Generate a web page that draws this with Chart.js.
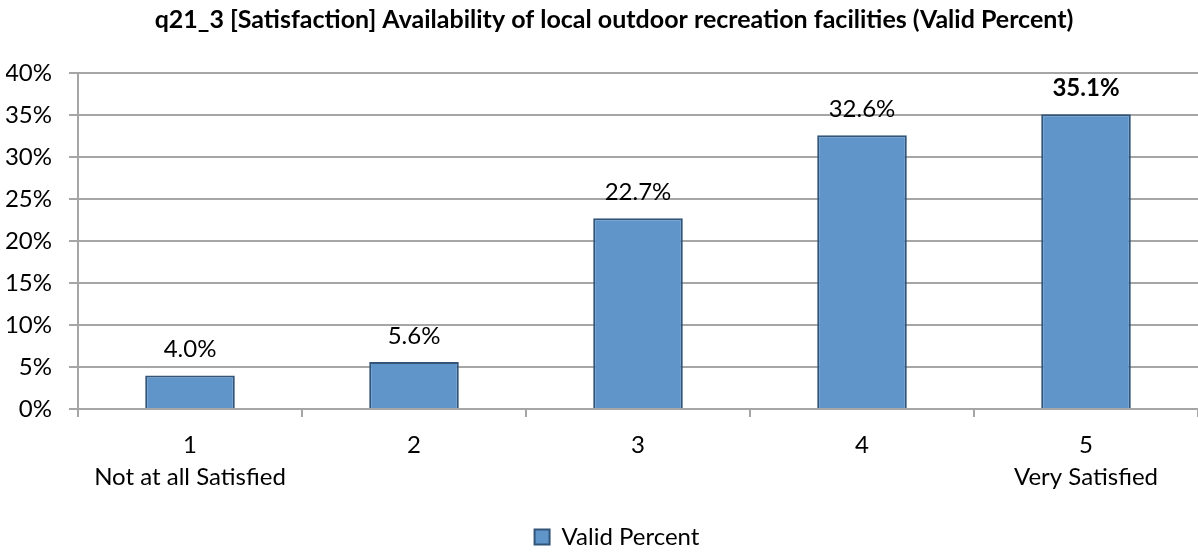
<!DOCTYPE html>
<html>
<head>
<meta charset="utf-8">
<script src="https://cdn.jsdelivr.net/npm/chart.js@4"></script>
<style>
  html, body { margin: 0; padding: 0; background: #fff; }
  #wrap { width: 1198px; height: 559px; }
</style>
</head>
<body>
<div id="wrap"><canvas id="chart" width="1198" height="559"></canvas></div>
<script>
// data
const categories = ["1", "2", "3", "4", "5"];
const categoryNotes = ["Not at all Satisfied", "", "", "", "Very Satisfied"];
const validPercent = [4.0, 5.6, 22.7, 32.6, 35.1];
const yTicks = [0, 5, 10, 15, 20, 25, 30, 35, 40];

const FONT = "Lato, 'Liberation Sans', sans-serif";
const GRID = "#a6a6a6";

// value labels above the bars, biggest one in bold
const barLabels = {
  id: "barLabels",
  afterDatasetsDraw(chart) {
    const ctx = chart.ctx;
    const meta = chart.getDatasetMeta(0);
    const max = Math.max(...validPercent);
    ctx.save();
    ctx.fillStyle = "#000";
    ctx.textAlign = "center";
    ctx.textBaseline = "alphabetic";
    meta.data.forEach((bar, i) => {
      const v = validPercent[i];
      ctx.font = (v === max ? "bold " : "") + "24px " + FONT;
      ctx.fillText(v.toFixed(1) + "%", bar.x, bar.y - 18);
    });
    ctx.restore();
  }
};

// the original chart is a bit wider than the picture, so title and legend sit right of centre
const nudgeBoxes = {
  id: "nudgeBoxes",
  afterLayout(chart) {
    if (chart.titleBlock) {
      chart.titleBlock.left += 12;
      chart.titleBlock.right += 12;
    }
    if (chart.legend) {
      chart.legend.left += 15;
      chart.legend.right += 15;
    }
  }
};

const labels = categories.map((c, i) => [c, categoryNotes[i]]);

new Chart(document.getElementById("chart"), {
  type: "bar",
  data: {
    labels: labels,
    datasets: [{
      label: "Valid Percent",
      data: validPercent,
      backgroundColor: "#5f95c9",
      borderColor: "#33557a",
      borderWidth: 2,
      barPercentage: 0.4,
      categoryPercentage: 1
    }]
  },
  options: {
    responsive: false,
    animation: false,
    layout: { padding: { left: 6, right: 0, top: 0, bottom: 0 } },
    plugins: {
      title: {
        display: true,
        text: "q21_3 [Satisfaction] Availability of local outdoor recreation facilities (Valid Percent)",
        color: "#000",
        font: { family: FONT, size: 25, weight: "bold", lineHeight: 1.2 },
        padding: { top: 5, bottom: 38 }
      },
      legend: {
        position: "bottom",
        labels: {
          color: "#000",
          font: { family: FONT, size: 24 },
          boxWidth: 15,
          boxHeight: 15,
          padding: 2
        }
      },
      tooltip: { enabled: false }
    },
    scales: {
      x: {
        afterFit(scale) {
          scale.height = 114;
        },
        grid: {
          display: true,
          drawOnChartArea: false,
          drawTicks: true,
          tickLength: 8,
          color: GRID,
          lineWidth: 2
        },
        border: { display: true, color: GRID, width: 2 },
        ticks: {
          color: "#000",
          font: { family: FONT, size: 24, lineHeight: 1.333 },
          padding: 12,
          maxRotation: 0,
          autoSkip: false
        }
      },
      y: {
        min: 0,
        max: 40,
        afterBuildTicks(scale) {
          scale.ticks = yTicks.map(v => ({ value: v }));
        },
        afterFit(scale) {
          scale.width = 72;
        },
        grid: { color: GRID, lineWidth: 2, tickLength: 9 },
        border: { display: true, color: GRID, width: 2 },
        ticks: {
          color: "#000",
          font: { family: FONT, size: 24 },
          padding: 17,
          callback: v => v + "%"
        }
      }
    }
  },
  plugins: [barLabels, nudgeBoxes]
});
</script>
</body>
</html>
